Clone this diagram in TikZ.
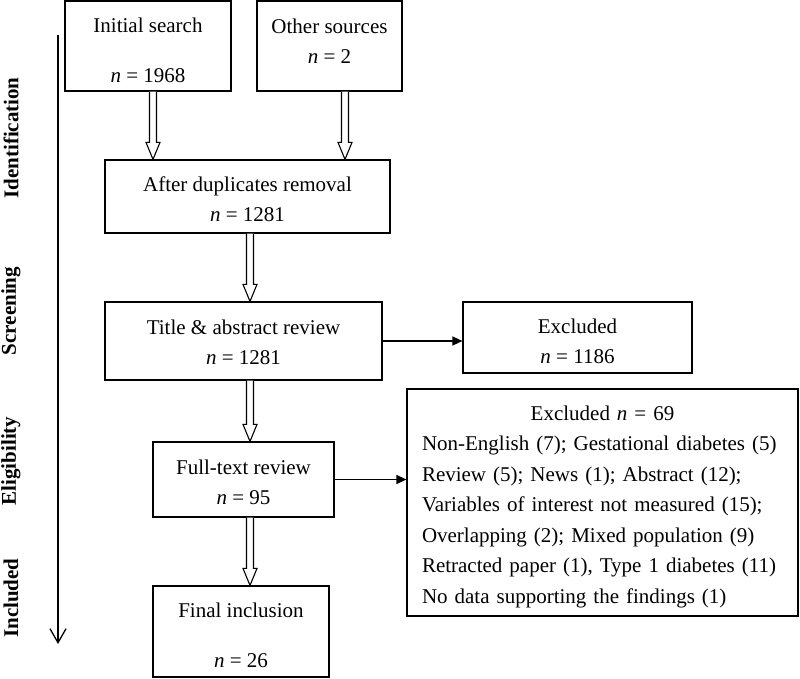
\documentclass[tikz,border=0pt]{standalone}
\usepackage{fontspec}
\setmainfont{Liberation Serif}
\usetikzlibrary{arrows.meta,calc}
\tikzset{
 boxfont/.style={font=\fontsize{21}{30}\selectfont},
 box/.style={draw, line width=1.2pt, inner sep=0pt},
 txt/.style={align=center, inner sep=0pt, boxfont},
 hollow/.style={draw, line width=1.1pt, fill=white, line join=miter},
 sidelab/.style={rotate=90, inner sep=0pt, font=\fontsize{21}{25}\selectfont\bfseries},
 sidearrow/.style={line width=1.3pt, -{Triangle[length=10pt,width=9pt]}},
 timeline/.style={line width=1.3pt, -{Straight Barb[length=14pt,width=16pt]}},
}
\newcommand{\harrow}[2]{%
 \draw[hollow] let \p1=#1, \p2=(#2.north) in
 (\x1-3.5pt,\y1) -- (\x1-3.5pt,\y2+17pt) -- (\x1-7pt,\y2+17pt) -- (\x1,\y2)
 -- (\x1+7pt,\y2+17pt) -- (\x1+3.5pt,\y2+17pt) -- (\x1+3.5pt,\y1);}
\begin{document}
\begin{tikzpicture}[x=1pt,y=-1pt]
\useasboundingbox (0,0) rectangle (800,679);
% boxes
\node[box, minimum width=166pt, minimum height=90pt] (a) at (148,46) {};
\node[txt] (at) at (148,50.5) {Initial search\\[20pt]\textit{n} = 1968};
\node[box, minimum width=145pt, minimum height=90pt] (b) at (329.5,46) {};
\node[txt] (bt) at (329.5,41) {Other sources\\\textit{n} = 2};
\node[box, minimum width=285pt, minimum height=73pt] (c) at (247.5,196.5) {};
\node[txt] (ct) at (247.5,199) {After duplicates removal\\\textit{n} = 1281};
\node[box, minimum width=277pt, minimum height=78pt] (d) at (243.5,341) {};
\node[txt] (dt) at (243.5,342) {Title \& abstract review\\\textit{n} = 1281};
\node[box, minimum width=229pt, minimum height=71pt] (e) at (577.5,337.5) {};
\node[txt] (et) at (577.5,341.5) {Excluded\\\textit{n} = 1186};
\node[box, minimum width=181pt, minimum height=75pt] (f) at (243.5,479.5) {};
\node[txt] (ft) at (243.5,482) {Full-text review\\\textit{n} = 95};
\node[box, minimum width=391pt, minimum height=227pt] (g) at (602.5,502.5) {};
\node[txt, text width=361pt, align=left, font=\fontsize{21}{30.5}\selectfont] (gt) at (602.5,506.5)
 {\makebox[361pt][c]{Excluded \textit{n} = 69}\\
  Non-English (7); Gestational diabetes (5)\\
  Review (5); News (1); Abstract (12);\\
  Variables of interest not measured (15);\\
  Overlapping (2); Mixed population (9)\\
  Retracted paper (1), Type 1 diabetes (11)\\
  No data supporting the findings (1)};
\node[box, minimum width=176pt, minimum height=91pt] (h) at (241,631.5) {};
\node[txt] (ht) at (241,635.5) {Final inclusion\\[20pt]\textit{n} = 26};
% hollow arrows
\harrow{([xshift=5pt]a.south)}{c}
\harrow{([xshift=15.5pt]b.south)}{c}
\harrow{([xshift=2.5pt]c.south)}{d}
\harrow{([xshift=6.5pt]d.south)}{f}
\harrow{([xshift=6.5pt]f.south)}{h}
% side arrows
\draw[sidearrow] (d.east) -- (d.east -| e.west);
\draw[sidearrow] (f.east) -- (f.east -| g.west);
% timeline
\coordinate (ls) at (58,35);
\coordinate (le) at (58,644);
\draw[timeline] (ls) -- (le);
% stage labels
\node[sidelab] (l1) at (11,138) {Identification};
\node[sidelab] (l2) at (11,311) {Screening};
\node[sidelab] (l3) at (11,461) {Eligibility};
\node[sidelab] (l4) at (11,598) {Included};
\end{tikzpicture}
\end{document}
